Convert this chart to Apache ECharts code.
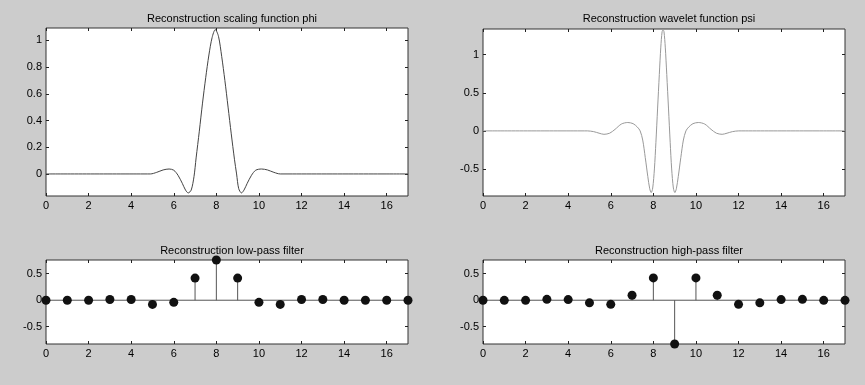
<!DOCTYPE html>
<html>
<head>
<meta charset="utf-8">
<script src="https://cdn.jsdelivr.net/npm/echarts@6/dist/echarts.min.js"></script>
<style>
html,body{margin:0;padding:0;background:#cccccc;}
#c{width:865px;height:385px;}
</style>
</head>
<body>
<div id="c"></div>
<script>
// ---- data ----
const titles = [
  'Reconstruction scaling function phi',
  'Reconstruction wavelet function psi',
  'Reconstruction low-pass filter',
  'Reconstruction high-pass filter'
];
const xTicks = [0, 2, 4, 6, 8, 10, 12, 14, 16];
const phiTicks = [0, 0.2, 0.4, 0.6, 0.8, 1];
const psiTicks = [-0.5, 0, 0.5, 1];
const filtTicks = [-0.5, 0, 0.5];

const phiT = [0, 4.9, 5.2, 5.5, 5.78, 6.0, 6.2, 6.4, 6.55, 6.68, 6.82, 6.95, 7.05, 7.2, 7.35, 7.5, 7.65, 7.8, 7.95, 8.1, 8.25, 8.4, 8.55, 8.7, 8.85, 8.95, 9.05, 9.18, 9.3, 9.45, 9.65, 9.85, 10.12, 10.4, 10.7, 11.0, 17];
const phiV = [0, 0, 0.012, 0.03, 0.037, 0.028, -0.01, -0.07, -0.12, -0.142, -0.12, -0.02, 0.12, 0.32, 0.53, 0.72, 0.89, 1.02, 1.08, 1.03, 0.88, 0.70, 0.50, 0.30, 0.11, 0.0, -0.11, -0.142, -0.12, -0.07, -0.01, 0.028, 0.037, 0.03, 0.012, 0, 0];

const psiT = [0, 4.9, 5.2, 5.45, 5.68, 5.95, 6.2, 6.5, 6.8, 7.05, 7.25, 7.38, 7.5, 7.62, 7.74, 7.83, 7.9, 7.97, 8.05, 8.12, 8.2, 8.28, 8.35, 8.41, 8.455, 8.5, 8.56, 8.63, 8.71, 8.79, 8.86, 8.94, 9.01, 9.08, 9.17, 9.29, 9.41, 9.53, 9.66, 9.86, 10.11, 10.41, 10.71, 10.96, 11.23, 11.46, 11.71, 12.01, 17];
const psiV = [0, 0, -0.01, -0.03, -0.045, -0.03, 0.02, 0.09, 0.11, 0.095, 0.05, 0.0, -0.12, -0.35, -0.6, -0.76, -0.81, -0.75, -0.5, -0.15, 0.3, 0.74, 1.1, 1.3, 1.33, 1.3, 1.1, 0.74, 0.3, -0.15, -0.5, -0.75, -0.81, -0.76, -0.6, -0.35, -0.12, 0.0, 0.05, 0.095, 0.11, 0.09, 0.02, -0.03, -0.045, -0.03, -0.01, 0, 0];

const lowPass = [0, 0, 0, 0.0144, 0.0145, -0.0787, -0.0404, 0.4178, 0.7589, 0.4178, -0.0404, -0.0787, 0.0145, 0.0144, 0, 0, 0, 0];
const highPass = [0, -0.0019, -0.0019, 0.017, 0.0119, -0.0497, -0.0773, 0.0941, 0.4208, -0.8259, 0.4208, 0.0941, -0.0773, -0.0497, 0.0119, 0.017, -0.0019, -0.0019];

// ---- layout ----
const FONT = 'Liberation Sans';
const grids = [
  {left: 46, top: 28, width: 362, height: 168},
  {left: 483, top: 29, width: 362, height: 167},
  {left: 46, top: 260, width: 362, height: 84},
  {left: 483, top: 260, width: 362, height: 84}
];
const yRanges = [[-0.165, 1.092], [-0.855, 1.338], [-0.8259, 0.7589], [-0.8259, 0.7589]];
const yTickSets = [phiTicks, psiTicks, filtTicks, filtTicks];
const titleTops = [8, 8, 240, 240];

const xAxes = [], yAxes = [], titleOpts = [];
grids.forEach((g, i) => {
  const tick = (vals) => ({show: true, inside: true, length: 3, customValues: vals, lineStyle: {color: '#222', width: 1}});
  const lab = (vals) => ({show: true, customValues: vals, fontSize: 11, color: '#000', fontFamily: FONT, margin: 4});
  const line = {show: false, onZero: false};
  xAxes.push({type: 'value', gridIndex: i, min: 0, max: 17, position: 'bottom',
    axisLine: line, axisTick: tick(xTicks), axisLabel: lab(xTicks), splitLine: {show: false}});
  xAxes.push({type: 'value', gridIndex: i, min: 0, max: 17, position: 'top',
    axisLine: line, axisTick: tick(xTicks), axisLabel: {show: false}, splitLine: {show: false}});
  yAxes.push({type: 'value', gridIndex: i, min: yRanges[i][0], max: yRanges[i][1], position: 'left',
    axisLine: line, axisTick: tick(yTickSets[i]), axisLabel: lab(yTickSets[i]), splitLine: {show: false}});
  yAxes.push({type: 'value', gridIndex: i, min: yRanges[i][0], max: yRanges[i][1], position: 'right',
    axisLine: line, axisTick: tick(yTickSets[i]), axisLabel: {show: false}, splitLine: {show: false}});
  titleOpts.push({text: titles[i], left: g.left + g.width / 2, top: titleTops[i], textAlign: 'center',
    textStyle: {fontSize: 11, fontWeight: 'normal', color: '#000', fontFamily: FONT}});
});

const zip = (a, b) => a.map((v, i) => [v, b[i]]);
const stems = (arr) => arr.map((v, i) => [i, v]);

function stemSeries(gi, arr) {
  return [
    {type: 'line', xAxisIndex: 2 * gi, yAxisIndex: 2 * gi, data: [[0, 0], [17, 0]], showSymbol: false,
      lineStyle: {color: '#555', width: 1}, silent: true, z: 2},
    {type: 'custom', xAxisIndex: 2 * gi, yAxisIndex: 2 * gi, data: stems(arr), encode: {x: 0, y: 1}, z: 3,
      renderItem: function (params, api) {
        const x = api.value(0), y = api.value(1);
        const p0 = api.coord([x, 0]), p1 = api.coord([x, y]);
        return {type: 'line', shape: {x1: p0[0], y1: p0[1], x2: p1[0], y2: p1[1]},
          style: {stroke: '#555', lineWidth: 1}};
      }},
    {type: 'scatter', xAxisIndex: 2 * gi, yAxisIndex: 2 * gi, data: stems(arr), symbol: 'circle', symbolSize: 9,
      itemStyle: {color: '#111', opacity: 1}, clip: false, z: 4}
  ];
}

const series = [
  {type: 'line', xAxisIndex: 0, yAxisIndex: 0, data: zip(phiT, phiV), showSymbol: false, smooth: 0.3,
    lineStyle: {color: '#444', width: 1}},
  {type: 'line', xAxisIndex: 2, yAxisIndex: 2, data: zip(psiT, psiV), showSymbol: false, smooth: 0.3,
    lineStyle: {color: '#999', width: 1}}
].concat(stemSeries(2, lowPass), stemSeries(3, highPass));

const chart = echarts.init(document.getElementById('c'), null, {renderer: 'canvas'});
chart.setOption({
  backgroundColor: '#cccccc',
  animation: false,
  title: titleOpts,
  grid: grids.map(g => Object.assign({show: true, backgroundColor: '#ffffff', borderColor: '#333', borderWidth: 1}, g)),
  xAxis: xAxes,
  yAxis: yAxes,
  series: series
});
</script>
</body>
</html>
